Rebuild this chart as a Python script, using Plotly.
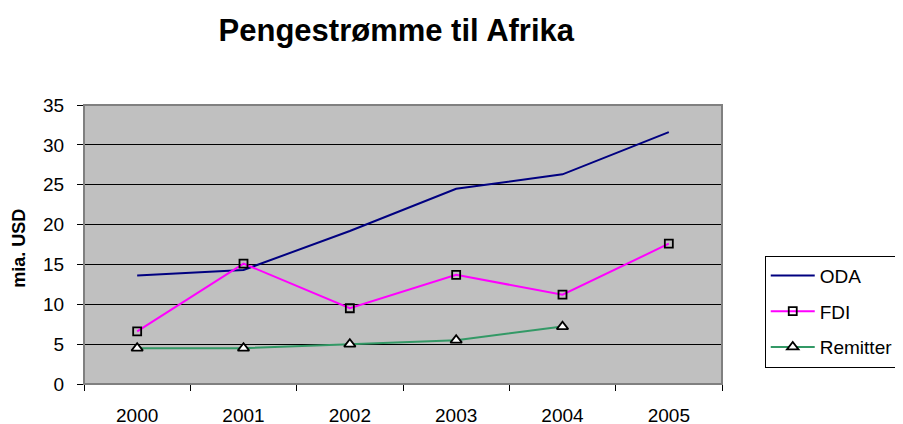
import plotly.graph_objects as go

years = ["2000", "2001", "2002", "2003", "2004", "2005"]
oda = [13.6, 14.3, 19.2, 24.5, 26.3, 31.6]
fdi = [6.6, 15.1, 9.5, 13.7, 11.2, 17.6]
remitter = [4.5, 4.5, 5.0, 5.5, 7.2, None]
y_ticks = [0, 5, 10, 15, 20, 25, 30, 35]

FONT = "Liberation Sans, Arial, sans-serif"

fig = go.Figure()
fig.add_trace(go.Scatter(x=years, y=oda, name="ODA", mode="lines",
                         line=dict(color="#000080", width=2), legendgroup="a"))
fig.add_trace(go.Scatter(x=years, y=fdi, name="FDI", mode="lines+markers",
                         line=dict(color="#FF00FF", width=2),
                         marker=dict(symbol="square-open", size=8, color="#000000",
                                     line=dict(width=1.8, color="#000000")),
                         legendgroup="b"))
fig.add_trace(go.Scatter(x=years, y=remitter, name="Remitter", mode="lines+markers",
                         line=dict(color="#339966", width=2),
                         marker=dict(symbol="triangle-up", size=10, color="#FFFFFF",
                                     line=dict(width=1.8, color="#000000")),
                         legendgroup="c"))

fig.update_layout(
    width=903, height=424,
    margin=dict(l=76, r=186, t=97, b=48),
    paper_bgcolor="#FFFFFF",
    plot_bgcolor="#C0C0C0",
    font=dict(family=FONT, size=19, color="#000000"),
    title=dict(text="<b>Pengestrømme til Afrika</b>", x=0.43, xanchor="center",
               y=0.948, yanchor="middle", font=dict(family=FONT, size=31, color="#000000")),
    showlegend=True,
    legend=dict(x=1.067, xanchor="left", y=0.46, yanchor="top",
                bgcolor="#FFFFFF", bordercolor="#000000", borderwidth=1,
                font=dict(family=FONT, size=19), tracegroupgap=8,
                itemwidth=44, traceorder="grouped"),
    xaxis=dict(type="category", range=[-0.5, 5.5], tickson="boundaries",
               ticks="outside", ticklen=6, tickcolor="#000000",
               showline=True, linecolor="#000000", linewidth=1, mirror=False,
               showgrid=False, zeroline=False, automargin=False,
               ticklabelstandoff=14,
               tickfont=dict(family=FONT, size=19)),
    yaxis=dict(range=[0, 35], tickvals=y_ticks, ticks="outside", ticklen=6,
               tickcolor="#000000", showline=True, linecolor="#000000", linewidth=1,
               showgrid=True, gridcolor="#000000", gridwidth=1, zeroline=False,
               automargin=False, ticklabelstandoff=9,
               tickfont=dict(family=FONT, size=19)),
    annotations=[dict(text="<b>mia. USD</b>", xref="paper", yref="paper",
                      x=-0.1014, y=0.486, xanchor="center", yanchor="middle",
                      textangle=-90, showarrow=False,
                      font=dict(family=FONT, size=18, color="#000000"))],
)

# plot-area border (top/right) in grey
fig.add_shape(type="rect", xref="paper", yref="paper", x0=0, y0=0, x1=1, y1=1,
              line=dict(color="#808080", width=2), layer="above")

fig.write_html("out.html")
